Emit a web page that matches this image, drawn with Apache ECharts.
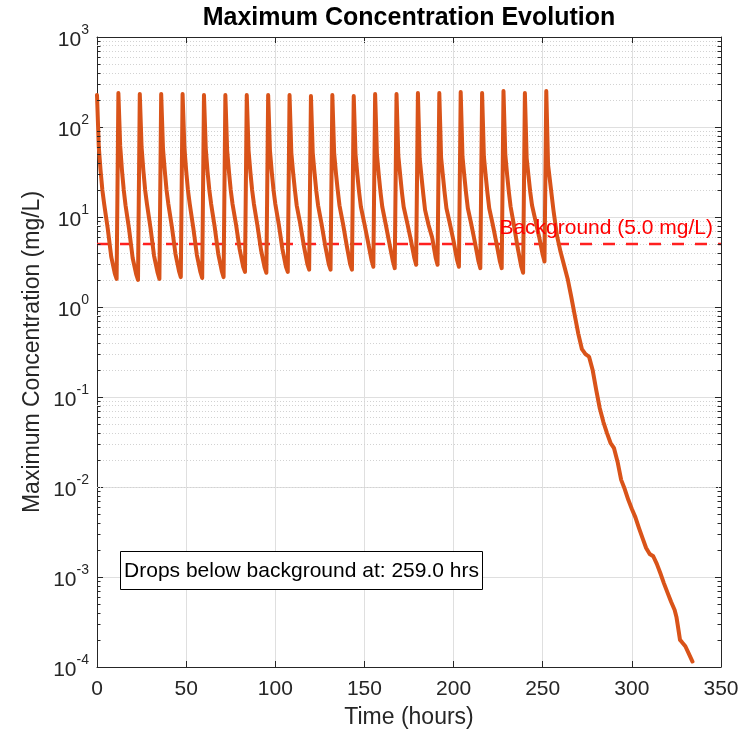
<!DOCTYPE html>
<html><head><meta charset="utf-8">
<script src="https://cdn.jsdelivr.net/npm/echarts@6/dist/echarts.min.js"></script>
<style>html,body{margin:0;padding:0;background:#fff}#c{width:747px;height:736px}</style>
</head><body><div id="c"></div>
<script>
// ---------------- data ----------------
const doseTimes = [0, 12, 24, 36, 48, 60, 72, 84, 96, 108, 120, 132, 144, 156, 168, 180, 192, 204, 216, 228, 240];
const cycleOffsets = [0, 1, 2, 3, 4, 6, 8, 10, 11];
const cycleValues = [
  [227, 60, 33, 20, 14, 7.5, 3.6, 2.35, 2.05],
  [239, 62, 33, 20, 13.5, 7.3, 3.5, 2.3, 2.0],
  [233, 60, 33, 20, 14, 7.6, 3.7, 2.4, 2.05],
  [233, 58, 33, 20, 14, 7.8, 3.9, 2.5, 2.15],
  [233, 60, 33, 20, 14, 7.6, 3.8, 2.45, 2.1],
  [227, 58, 32, 20, 14, 7.8, 3.9, 2.5, 2.15],
  [227, 55, 32, 20, 14, 8.2, 4.4, 2.8, 2.45],
  [227, 55, 32, 20, 14, 8.0, 4.3, 2.75, 2.4],
  [227, 55, 32, 20, 14, 8.2, 4.4, 2.8, 2.45],
  [227, 52, 31, 20, 13.5, 8.4, 4.8, 3.0, 2.6],
  [221, 52, 31, 19.5, 13.5, 8.3, 4.8, 3.0, 2.6],
  [227, 52, 31, 20, 13.5, 8.4, 4.9, 3.0, 2.6],
  [221, 50, 30, 19, 13, 8.4, 5.3, 3.3, 2.8],
  [233, 50, 30, 19, 13, 8.2, 5.1, 3.2, 2.7],
  [233, 48, 30, 19, 13, 8.6, 5.6, 3.5, 2.95],
  [239, 45, 28, 18, 12, 8.1, 5.9, 3.5, 2.95],
  [239, 46, 29, 18.5, 12.5, 8.3, 5.4, 3.3, 2.8],
  [245, 47, 29, 18.5, 12.5, 8.2, 5.2, 3.2, 2.7],
  [239, 47, 29, 18.5, 12.5, 8.2, 5.2, 3.2, 2.7],
  [251, 50, 30, 19, 13, 7.8, 4.5, 2.8, 2.4],
  [239, 45, 29, 19, 13.5, 9.0, 6.0, 3.8, 3.2]
];
const tailTimes = [252, 253, 254, 256, 258, 260, 262, 264, 266, 268, 270, 272, 274, 276, 278, 280, 282, 284, 286, 288, 290, 292, 294, 296, 298, 300, 302, 304, 306, 308, 310, 312, 314, 316, 318, 320, 322, 324, 325, 326, 327, 328, 330, 332, 334];
const tailValues = [251, 38, 26, 12, 6.2, 4.1, 2.9, 2.05, 1.3, 0.8, 0.5, 0.34, 0.3, 0.28, 0.2, 0.12, 0.075, 0.053, 0.04, 0.031, 0.027, 0.019, 0.012, 0.0095, 0.0072, 0.0057, 0.0046, 0.0035, 0.0027, 0.0021, 0.0018, 0.0017, 0.0014, 0.0011, 0.00085, 0.00067, 0.00053, 0.00043, 0.00036, 0.00027, 0.0002, 0.00019, 0.00017, 0.00014, 0.000115];
const backgroundLevel = 5.0;
const dropTime = 259.0;
const xMin = 0, xMax = 350, xStep = 50;
const yMin = 1e-4, yMax = 1e3;
const yDecades = [-4, -3, -2, -1, 0, 1, 2];
const minorMultipliers = [2, 3, 4, 5, 6, 7, 8, 9];

const titleText = 'Maximum Concentration Evolution';
const xName = 'Time (hours)';
const yName = 'Maximum Concentration (mg/L)';
const bgLabel = 'Background (' + backgroundLevel.toFixed(1) + ' mg/L)';
const noteText = 'Drops below background at: ' + dropTime.toFixed(1) + ' hrs';

// ---------------- build ----------------
const lineData = [];
for (let i = 0; i < cycleValues.length; i++) {
  for (let j = 0; j < cycleOffsets.length; j++) {
    lineData.push([doseTimes[i] + cycleOffsets[j], cycleValues[i][j]]);
  }
}
for (let k = 0; k < tailTimes.length; k++) lineData.push([tailTimes[k], tailValues[k]]);

const minorValues = [];
yDecades.forEach(d => minorMultipliers.forEach(m => minorValues.push(m * Math.pow(10, d))));

const FONT = '"Liberation Sans", Arial, Helvetica, sans-serif';
const AX = '#262626';

const chart = echarts.init(document.getElementById('c'), null, {renderer: 'canvas'});

function supLabel(v) {
  const e = Math.round(Math.log10(v));
  return '{b|10}{s|' + e + '}';
}
const richY = {
  b: {fontSize: 21, fontFamily: FONT, color: AX, padding: [7, 0, 0, 0]},
  s: {fontSize: 14, fontFamily: FONT, color: AX, verticalAlign: 'top'}
};

const xAxisBase = {
  type: 'value', min: xMin, max: xMax, interval: xStep,
  axisLine: {show: true, onZero: false, lineStyle: {color: AX, width: 1}},
  axisTick: {show: true, inside: true, length: 6, lineStyle: {color: AX, width: 1}}
};
const yAxisBase = {
  type: 'log', logBase: 10, min: yMin, max: yMax, interval: 1, splitNumber: 7,
  axisLine: {show: true, onZero: false, lineStyle: {color: AX, width: 1}},
  axisTick: {show: true, inside: true, length: 6, lineStyle: {color: AX, width: 1}}
};

chart.setOption({
  animation: false,
  backgroundColor: '#fff',
  grid: {left: 97, right: 26, top: 37, bottom: 69, containLabel: false},
  xAxis: [
    Object.assign({}, xAxisBase, {
      position: 'bottom',
      axisLabel: {show: true, margin: 12, fontSize: 21, fontFamily: FONT, color: AX},
      splitLine: {show: true, lineStyle: {color: '#dfdfdf', width: 1}}
    }),
    Object.assign({}, xAxisBase, {
      position: 'top', axisLabel: {show: false}, splitLine: {show: false}
    })
  ],
  yAxis: [
    Object.assign({}, yAxisBase, {
      position: 'left',
      axisLabel: {show: true, margin: 8, formatter: supLabel, rich: richY},
      splitLine: {show: true, lineStyle: {color: '#dfdfdf', width: 1}}
    }),
    Object.assign({}, yAxisBase, {
      position: 'right', axisLabel: {show: false}, splitLine: {show: false}
    })
  ],
  series: [
    {
      name: 'minorGrid', type: 'line', data: [], z: 1, silent: true,
      markLine: {
        z: 1, silent: true, symbol: ['none', 'none'], label: {show: false}, animation: false,
        lineStyle: {color: '#d2d2d2', width: 1, type: [1, 2]},
        emphasis: {disabled: true},
        data: minorValues.map(v => ({yAxis: v}))
      }
    },
    {
      name: 'maxConc', type: 'line', data: lineData, symbol: 'none', showSymbol: false, z: 5,
      silent: true, clip: true,
      lineStyle: {color: '#D95319', width: 4, join: 'round', cap: 'round'}
    }
  ]
});

function addGraphics() {
  const xl = chart.convertToPixel({xAxisIndex: 0}, xMin);
  const xr = chart.convertToPixel({xAxisIndex: 0}, xMax);
  const yt = chart.convertToPixel({yAxisIndex: 0}, yMax);
  const yb = chart.convertToPixel({yAxisIndex: 0}, yMin);
  const g = [];
  minorValues.forEach(v => {
    const y = Math.round(chart.convertToPixel({yAxisIndex: 0}, v)) + 0.5;
    g.push({type: 'line', silent: true, z: 10, shape: {x1: xl, y1: y, x2: xl + 3.5, y2: y}, style: {stroke: AX, lineWidth: 1}});
    g.push({type: 'line', silent: true, z: 10, shape: {x1: xr - 3.5, y1: y, x2: xr, y2: y}, style: {stroke: AX, lineWidth: 1}});
  });
  const cx = (xl + xr) / 2, cy = (yt + yb) / 2;
  const yBg = chart.convertToPixel({yAxisIndex: 0}, backgroundLevel);
  // background threshold (dashed), placed through the axis scales
  g.push({type: 'line', silent: true, z: 3, shape: {x1: xl, y1: yBg, x2: xr, y2: yBg},
    style: {stroke: '#FF2020', lineWidth: 2.5, lineDash: [12, 11]}});
  g.push({type: 'text', silent: true, z: 20, x: cx, y: 18,
    style: {text: titleText, font: 'bold 25px ' + FONT, fill: '#000', align: 'center', verticalAlign: 'middle'}});
  g.push({type: 'text', silent: true, z: 20, x: cx, y: 718,
    style: {text: xName, font: '23px ' + FONT, fill: AX, align: 'center', verticalAlign: 'middle'}});
  g.push({type: 'text', silent: true, z: 20, x: 33, y: cy, rotation: Math.PI / 2,
    style: {text: yName, font: '23px ' + FONT, fill: AX, align: 'center', verticalAlign: 'middle'}});
  g.push({type: 'text', silent: true, z: 20, x: xr - 8, y: yBg - 16,
    style: {text: bgLabel, font: '21px ' + FONT, fill: '#FF0000', align: 'right', verticalAlign: 'middle'}});
  g.push({type: 'rect', silent: true, z: 20, shape: {x: 120.5, y: 551.5, width: 362, height: 38},
    style: {fill: '#fff', stroke: '#000', lineWidth: 1}});
  g.push({type: 'text', silent: true, z: 21, x: 301.5, y: 571,
    style: {text: noteText, font: '21px ' + FONT, fill: '#000', align: 'center', verticalAlign: 'middle'}});
  chart.setOption({graphic: g});
}
addGraphics();
</script>
</body></html>
